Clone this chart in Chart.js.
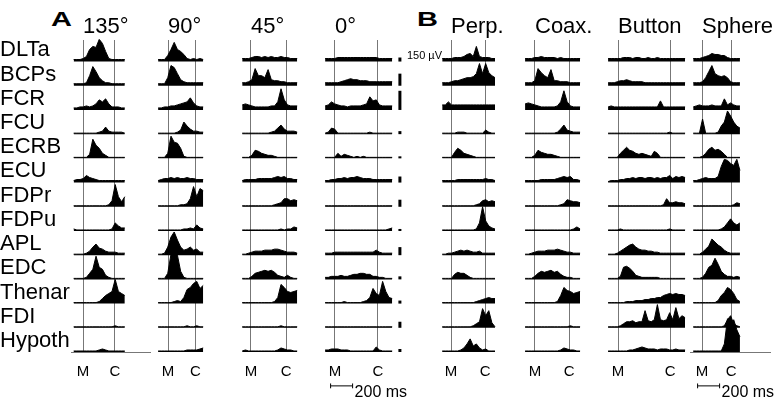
<!DOCTYPE html>
<html>
<head>
<meta charset="utf-8">
<script src="https://cdn.jsdelivr.net/npm/chart.js@4.4.0/dist/chart.umd.min.js"></script>
<style>
  body { margin: 0; background: #fff; width: 775px; height: 403px; position: relative; overflow: hidden;
         font-family: Arial, "Liberation Sans", sans-serif; }
  .wrap { position: absolute; top: 0; height: 403px; }
  .tag { position: absolute; top: 9px; font-weight: bold; font-size: 20px; line-height: 20px;
         transform: scaleX(1.45); transform-origin: left top; }
</style>
</head>
<body>
<div class="tag" style="left:51px">A</div>
<div class="tag" style="left:417px">B</div>
<script>
const muscles = ['DLTa', 'BCPs', 'FCR', 'FCU', 'ECRB', 'ECU', 'FDPr', 'FDPu', 'APL', 'EDC', 'Thenar', 'FDI', 'Hypoth'];
const conditions = ['135°', '90°', '45°', '0°', 'Perp.', 'Coax.', 'Button', 'Sphere'];

// times in ms, relative to movement onset (M)
const traceStartMs = [-85, -90, -80, -90, -80, -90, -90, -80];
const contactMs    = [290, 250, 320, 390, 310, 310, 475, 265];
const traceEndMs   = [380, 320, 420, 520, 400, 410, 610, 345];

// rectified EMG envelopes, one row per muscle; 24 units = one trace row
const emg135 = [
  [2,2,2,3,5,12,15,14,22,18,10,3,2,2,2,2,2],
  [2,2,2,2,3,10,19,14,8,5,3,3,2,2,2,2,2],
  [2,2,3,3,4,3,4,6,10,8,11,6,3,3,3,2,2],
  [1,1,1,1,1,1,1,1,2,3,7,3,2,2,2,2,1],
  [1,1,1,1,1,4,19,13,10,5,3,1,1,1,1,1,1],
  [2,3,3,4,7,5,4,3,2,2,2,2,2,2,2,2,2],
  [1,1,1,1,1,1,1,1,1,1,1,2,6,22,10,5,10],
  [2,1,1,1,1,1,1,1,1,1,1,1,2,8,5,3,3],
  [1,1,1,1,2,4,8,11,7,6,4,3,3,3,2,2,2],
  [1,1,1,1,2,6,10,23,12,10,4,2,1,1,1,1,1],
  [1,1,1,1,1,1,1,1,2,5,8,10,12,24,12,10,8],
  [1,1,1,1,1,1,1,1,1,1,1,1,1,2,1,1,1],
  [1,1,1,1,1,1,1,1,2,3,2,1,1,1,1,1,1]
];
const emg90 = [
  [2,2,2,6,12,19,12,10,7,3,2,3,2,3,2],
  [2,2,2,8,20,18,12,6,4,3,3,3,3,3,3],
  [2,2,3,3,4,4,5,6,7,8,12,7,4,3,3],
  [1,1,1,1,1,1,2,4,12,8,5,3,3,2,2],
  [1,1,1,5,22,16,15,10,2,1,1,1,1,1,1],
  [2,3,4,4,5,4,5,4,4,5,4,4,3,3,3],
  [1,1,1,1,1,1,1,2,2,3,8,20,10,18,16],
  [1,1,1,1,1,1,1,1,2,2,3,2,6,3,2],
  [1,1,2,8,18,23,15,8,5,6,8,5,6,3,3],
  [1,1,1,6,25,29,24,8,2,1,1,1,1,1,1],
  [1,1,1,1,1,2,3,2,6,14,16,20,22,15,18],
  [1,1,1,1,1,1,1,1,1,2,1,1,2,1,1],
  [1,1,1,1,1,1,1,1,1,2,2,2,2,3,4]
];
const emg45 = [
  [3,3,3,4,5,5,4,5,4,5,4,4,5,4,4,3,3,3],
  [3,3,4,6,17,10,10,8,16,6,5,5,4,4,3,3,3,3],
  [5,6,5,4,3,3,3,3,3,4,4,8,21,10,5,4,4,4],
  [1,1,1,1,1,1,1,1,1,2,3,6,9,5,3,3,3,2],
  [1,1,1,3,8,7,5,4,3,3,2,1,1,1,1,1,1,1],
  [2,3,3,3,3,4,4,4,4,4,5,6,5,6,4,4,3,3],
  [1,1,1,1,1,1,1,1,1,1,2,3,4,8,8,6,7,6],
  [1,1,1,1,1,1,1,1,1,1,1,1,2,1,2,2,4,3],
  [1,1,2,3,4,4,4,5,5,5,6,6,5,4,3,3,3,2],
  [1,1,1,3,6,7,8,9,8,9,7,4,3,2,4,2,1,1],
  [1,1,1,1,1,1,1,1,1,1,2,6,19,16,12,11,12,13],
  [1,1,1,1,1,1,1,1,1,1,1,1,2,1,1,1,1,1],
  [1,2,1,1,1,1,1,1,1,1,1,2,4,3,2,2,1,1]
];
const emg0 = [
  [3,3,3,3,4,4,4,4,4,4,4,4,4,4,4,4,4,3,3,3,3,3],
  [3,3,3,3,3,4,5,6,7,6,6,5,5,5,4,4,4,4,4,4,4,4],
  [4,5,8,6,5,4,4,3,4,4,4,4,5,6,13,9,10,5,4,4,4,4],
  [1,2,6,5,1,1,1,1,1,1,1,1,1,1,2,1,1,1,1,1,1,1],
  [1,1,1,1,5,2,4,3,2,1,2,1,2,1,1,1,1,1,1,1,1,1],
  [2,2,3,3,4,4,5,4,5,5,6,5,4,4,4,3,3,3,3,3,3,3],
  [1,1,1,1,1,1,1,1,1,1,1,1,1,1,1,1,1,1,1,1,1,1],
  [1,1,1,1,1,1,1,1,1,1,1,1,1,1,1,1,1,1,1,1,2,3],
  [2,2,2,3,3,3,3,3,3,3,3,3,3,3,3,3,5,3,2,2,2,2],
  [2,2,3,3,3,4,3,3,4,5,5,6,6,5,5,3,3,2,2,1,1,1],
  [1,1,1,1,1,1,2,1,1,1,1,1,2,3,6,15,10,8,22,12,6,5],
  [1,1,1,1,1,1,1,1,1,1,1,1,1,1,1,1,1,1,1,1,1,1],
  [2,2,3,3,3,2,2,2,1,1,1,1,1,1,1,1,5,2,1,1,1,1]
];
const emgPerp = [
  [3,3,3,3,4,4,4,5,7,8,5,15,5,4,4,4,3,3],
  [3,3,3,4,5,5,6,7,8,8,9,12,22,12,22,13,10,8],
  [5,5,8,5,5,5,5,5,5,5,5,5,5,5,5,5,5,5],
  [1,1,1,1,1,2,2,2,1,1,1,1,1,1,4,2,1,1],
  [1,1,1,1,6,10,8,5,4,3,2,1,1,1,1,1,1,1],
  [2,2,2,2,2,3,3,3,3,3,3,3,3,3,4,3,3,2],
  [1,1,1,1,1,1,1,1,1,1,1,2,3,6,7,5,6,5],
  [1,1,1,1,1,1,1,1,1,1,1,2,8,24,10,5,3,2],
  [1,1,2,2,3,4,5,4,5,4,3,3,4,2,2,2,2,2],
  [1,1,1,1,5,7,6,6,4,2,1,1,1,1,1,1,1,1],
  [1,1,1,1,1,1,1,1,1,1,1,2,3,4,5,6,5,5],
  [1,1,1,1,1,1,1,1,1,1,2,4,6,19,12,17,5,1],
  [1,1,1,1,1,1,2,4,8,13,6,8,4,2,3,1,1,1]
];
const emgCoax = [
  [3,3,3,4,4,5,4,4,4,4,3,4,3,3,3,3,3,3],
  [3,3,3,5,17,13,10,8,16,5,5,4,4,4,3,3,3,3],
  [6,7,6,5,4,3,3,3,3,3,4,8,19,8,4,3,3,3],
  [1,1,1,1,1,1,1,1,1,1,2,5,9,4,3,2,2,2],
  [1,1,1,3,8,6,5,4,4,3,2,1,1,1,1,1,1,1],
  [2,2,2,2,2,3,3,3,3,3,4,5,6,5,6,3,3,2],
  [1,1,1,1,1,1,1,1,1,1,1,2,3,7,6,5,5,4],
  [1,1,1,1,1,1,1,1,1,1,1,1,1,1,1,2,4,2],
  [1,1,2,3,4,4,4,5,5,5,6,5,4,3,3,2,2,2],
  [1,1,1,3,6,8,7,8,9,7,8,5,3,2,2,1,1,1],
  [1,1,1,1,1,1,1,1,1,1,2,8,16,13,12,10,11,12],
  [1,1,1,1,1,1,1,1,1,1,1,1,1,1,2,1,1,1],
  [1,1,1,1,1,1,1,1,1,1,1,2,4,3,2,2,1,1]
];
const emgButton = [
  [3,3,3,3,3,4,4,4,3,4,4,3,3,4,3,3,4,3,3,3,3,3,3,3,3,3],
  [3,3,3,4,5,5,6,5,4,4,4,4,3,3,3,3,3,3,3,3,3,3,3,3,3,3],
  [3,4,3,3,3,3,3,3,3,3,3,3,3,3,3,3,3,9,3,3,3,3,3,3,3,3],
  [1,1,1,1,1,1,1,1,1,1,1,1,1,1,1,1,1,1,1,1,2,1,1,1,1,1],
  [1,1,1,1,5,8,11,8,7,5,4,5,4,3,2,7,5,1,1,1,1,1,1,1,1,1],
  [1,2,2,2,3,3,4,4,5,4,5,5,4,5,5,4,5,4,5,5,7,4,6,5,6,5],
  [1,1,1,1,1,1,1,1,1,1,1,1,1,1,1,1,1,1,2,8,4,4,5,4,4,3],
  [1,1,1,1,2,1,1,1,1,1,1,1,1,1,1,1,1,1,1,1,2,1,1,1,1,1],
  [1,1,1,2,4,6,8,10,11,8,6,5,5,4,4,3,3,2,2,2,2,2,2,2,2,2],
  [1,1,1,1,3,12,13,11,8,4,3,2,2,2,2,2,2,1,1,1,1,1,1,1,1,1],
  [1,1,1,1,1,1,2,2,2,3,3,3,4,4,5,5,6,6,8,9,10,9,10,9,9,8],
  [1,1,1,1,2,4,6,6,7,5,6,6,17,7,6,8,23,8,7,8,15,8,20,9,12,10],
  [1,1,1,1,1,1,1,2,2,3,4,5,4,3,3,3,2,3,3,3,2,2,3,2,2,2]
];
const emgSphere = [
  [3,3,3,4,5,6,8,7,7,6,6,4,3,3,3,3],
  [3,3,3,4,8,14,20,12,10,9,10,8,4,3,3,3],
  [3,4,5,4,4,4,5,4,4,4,11,5,7,5,4,4],
  [1,1,1,15,1,1,1,1,2,8,12,23,18,12,8,6],
  [1,1,1,2,5,9,11,8,9,7,4,1,1,1,1,1],
  [2,2,3,4,5,4,4,4,6,16,23,22,19,17,23,12],
  [1,1,1,1,1,1,1,1,1,1,1,1,1,2,4,3],
  [1,1,1,1,1,1,1,1,1,2,4,8,12,8,6,8],
  [1,1,1,3,6,9,16,13,10,8,5,3,2,2,2,2],
  [1,1,1,2,6,12,14,21,15,8,5,3,3,2,3,2],
  [1,1,1,1,1,1,1,1,3,8,11,16,14,10,4,2],
  [1,1,1,1,1,1,1,1,1,1,2,8,12,4,2,1],
  [1,1,1,1,1,1,1,1,1,1,8,33,25,32,22,15]
];
const emgByCondition = [emg135, emg90, emg45, emg0, emgPerp, emgCoax, emgButton, emgSphere];

// height of a 150 µV calibration bar for each muscle, same units as the EMG rows
const calib150uV = [4, 12, 19, 3, 2, 6, 7, 2, 8, 3, 3, 6, 3];

// 200 ms time scale bar, ms
const timeBarMs = [-40, 160];

// layout
const MS_PER_PX = 200 / 22;
const ROW_UNITS = 24;
const Y_TOP = 12.89;
const M_PX = [83, 168, 251, 335, 451, 535, 618, 702];
const RIGHT_PX = [150, 212, 300, 450, 498, 585, 690, 770];
const PAD_RIGHT = 40;
const CALIB_MS = 590;
const SCALE_Y = -1.4;

Chart.defaults.font.family = 'Arial, "Liberation Sans", sans-serif';
Chart.defaults.color = '#000';

function panelText(c) {
  return {
    id: 'panelText',
    afterDraw(chart) {
      const { ctx, scales: { x, y } } = chart;
      ctx.save();
      ctx.fillStyle = '#000';
      ctx.textBaseline = 'alphabetic';
      ctx.font = '22px Arial, "Liberation Sans", sans-serif';
      ctx.fillText(conditions[c], x.getPixelForValue(0), 33);
      ctx.textBaseline = 'middle';
      if (c === 3 || c === 7) {
        ctx.font = '16px Arial, "Liberation Sans", sans-serif';
        ctx.fillText('200 ms', x.getPixelForValue(timeBarMs[1]) + 2, y.getPixelForValue(SCALE_Y) + 7);
      }
      if (c === 3) {
        ctx.font = '11px Arial, "Liberation Sans", sans-serif';
        ctx.fillText('150 µV', x.getPixelForValue(CALIB_MS) + 7, y.getPixelForValue(12.25));
      }
      ctx.restore();
    }
  };
}

function segment(points, width) {
  return {
    data: points,
    borderColor: '#000',
    borderWidth: width,
    borderCapStyle: 'butt',
    pointRadius: 0,
    clip: false
  };
}

conditions.forEach((cond, c) => {
  const areaLeft = Math.round(M_PX[c] - 110 / MS_PER_PX);
  const labelW = c === 0 ? areaLeft : 0;
  const canvasLeft = areaLeft - labelW;
  const areaW = RIGHT_PX[c] - areaLeft;
  const xMin = -(M_PX[c] - areaLeft) * MS_PER_PX;
  const xMax = xMin + areaW * MS_PER_PX;
  const width = labelW + areaW + PAD_RIGHT;

  const wrap = document.createElement('div');
  wrap.className = 'wrap';
  wrap.style.left = canvasLeft + 'px';
  wrap.style.width = width + 'px';
  const canvas = document.createElement('canvas');
  canvas.width = width;
  canvas.height = 403;
  wrap.appendChild(canvas);
  document.body.appendChild(wrap);

  const datasets = [];
  emgByCondition[c].forEach((vals, r) => {
    const base = 12 - r;
    const step = (traceEndMs[c] - traceStartMs[c]) / (vals.length - 1);
    datasets.push({
      data: vals.map((v, i) => ({ x: traceStartMs[c] + i * step, y: base + v / ROW_UNITS })),
      borderColor: '#000',
      backgroundColor: '#000',
      borderWidth: 1,
      pointRadius: 0,
      tension: 0,
      fill: { value: base },
      clip: false
    });
  });

  if (c === 3) {
    calib150uV.forEach((h, r) => {
      datasets.push(segment([{ x: CALIB_MS, y: 12 - r }, { x: CALIB_MS, y: 12 - r + h / ROW_UNITS }], 3));
    });
  }
  if (c === 3 || c === 7) {
    datasets.push(segment(timeBarMs.map(t => ({ x: t, y: SCALE_Y })), 1));
    timeBarMs.forEach(t => {
      datasets.push(segment([{ x: t, y: SCALE_Y - 0.1 }, { x: t, y: SCALE_Y + 0.1 }], 1));
    });
  }

  new Chart(canvas, {
    type: 'line',
    data: { datasets },
    options: {
      responsive: false,
      animation: false,
      layout: { autoPadding: false, padding: { top: 40, right: PAD_RIGHT, left: 0, bottom: 0 } },
      plugins: { legend: { display: false }, tooltip: { enabled: false } },
      scales: {
        x: {
          type: 'linear',
          min: xMin,
          max: xMax,
          offset: false,
          afterBuildTicks: s => { s.ticks = [{ value: 0 }, { value: contactMs[c] }]; },
          afterFit: s => { s.height = 51; },
          // invisible tick marks push the M / C labels down without adding side padding
          grid: { color: '#777', lineWidth: 1, drawTicks: true, tickLength: 11, tickColor: 'rgba(0,0,0,0)' },
          border: { display: c === 0 || c === 7, color: '#777', width: 1 },
          ticks: {
            callback: (v, i) => ['M', 'C'][i],
            font: { size: 15 },
            color: '#000',
            padding: 0,
            maxRotation: 0,
            autoSkip: false
          }
        },
        y: {
          type: 'linear',
          min: 0,
          max: Y_TOP,
          display: c === 0,
          afterBuildTicks: s => { s.ticks = muscles.map((m, r) => ({ value: 12 - r + 0.46 })); },
          afterFit: s => { s.width = labelW; },
          grid: { display: false },
          border: { display: false },
          ticks: {
            callback: (v, i) => muscles[i],
            crossAlign: 'far',
            autoSkip: false,
            padding: 0,
            font: { size: 22, lineHeight: 1 },
            color: '#000'
          }
        }
      }
    },
    plugins: [panelText(c)]
  });
});
</script>
</body>
</html>
